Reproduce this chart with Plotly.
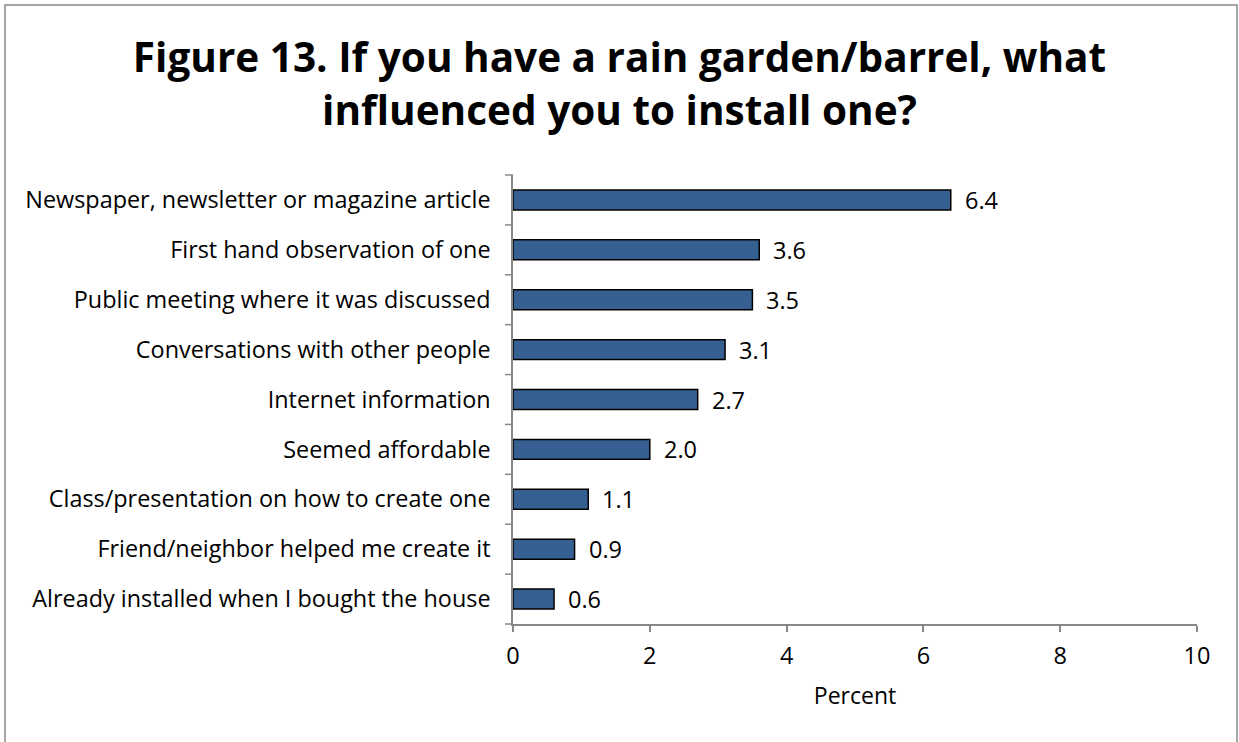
import plotly.graph_objects as go

categories = [
    "Newspaper, newsletter or magazine article",
    "First hand observation of one",
    "Public meeting where it was discussed",
    "Conversations with other people",
    "Internet information",
    "Seemed affordable",
    "Class/presentation on how to create one",
    "Friend/neighbor helped me create it",
    "Already installed when I bought the house",
]
values = [6.4, 3.6, 3.5, 3.1, 2.7, 2.0, 1.1, 0.9, 0.6]
x_ticks = [0, 2, 4, 6, 8, 10]

W, H = 1239, 742
L, R, T, B = 513, 42, 175, 118
pw, ph = W - L - R, H - T - B
FONT = "Open Sans"

fig = go.Figure(go.Bar(
    y=categories, x=values, orientation="h",
    marker=dict(color="#376092", line=dict(color="#000000", width=1.5)),
    width=0.4,
))

for c, v in zip(categories, values):
    fig.add_annotation(x=v, y=c, xref="x", yref="y", text=f"{v:.1f}",
                       showarrow=False, xanchor="left", xshift=12,
                       font=dict(size=23.5, family=FONT, color="#000000"))

fig.update_layout(
    width=W, height=H,
    margin=dict(l=L, r=R, t=T, b=B, autoexpand=False),
    paper_bgcolor="white", plot_bgcolor="white",
    font=dict(family=FONT, color="#000000"),
    title=dict(
        text="<b>Figure 13. If you have a rain garden/barrel, what<br>influenced you to install one?</b>",
        x=0.5, xanchor="center", y=0.9025, yanchor="middle",
        font=dict(size=40.5, family=FONT, color="#000000"),
    ),
    showlegend=False,
    xaxis=dict(
        range=[0, 10], tickvals=x_ticks, ticktext=[str(t) for t in x_ticks],
        showgrid=False, zeroline=False, showline=True, linecolor="#888888", linewidth=1.5,
        ticks="outside", ticklen=6, tickcolor="#888888", tickwidth=1.5,
        tickfont=dict(size=23.5), automargin=False, ticklabelstandoff=4,
        title=dict(text="Percent", font=dict(size=23), standoff=18),
    ),
    yaxis=dict(
        autorange="reversed", showgrid=False, showline=True, linecolor="#888888", linewidth=1.5,
        ticks="", tickfont=dict(size=23.4), ticklabelstandoff=16, automargin=False,
    ),
    bargap=0.6,
)

# category boundary tick marks
n = len(categories)
for i in range(n + 1):
    fig.add_shape(type="line", xref="paper", yref="paper",
                  x0=-8 / pw, x1=0, y0=i / n, y1=i / n,
                  line=dict(color="#888888", width=1.5))

# outer border
fig.add_shape(type="rect", xref="paper", yref="paper",
              x0=(5 - L) / pw, x1=(1237 - L) / pw,
              y0=(H - B - (H + 20)) / ph, y1=(H - B - 5) / ph,
              line=dict(color="#898989", width=1.5), fillcolor="rgba(0,0,0,0)", layer="below")

fig.write_html("out.html", config={"displayModeBar": False},
               post_script="document.body.style.margin='0';")
